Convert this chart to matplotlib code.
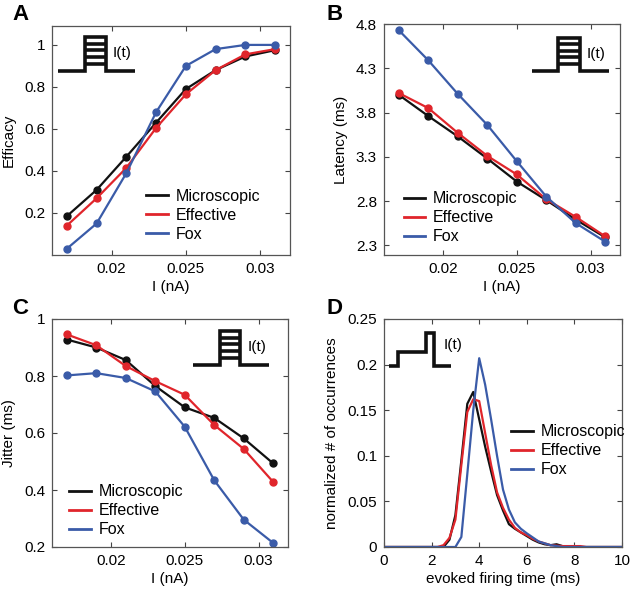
import matplotlib
matplotlib.use('Agg')
import matplotlib.pyplot as plt
from matplotlib.lines import Line2D
from matplotlib.ticker import FormatStrFormatter
import numpy as np

plt.rcParams['font.family'] = ['Liberation Sans', 'DejaVu Sans']
plt.rcParams['font.size'] = 11

# ---- data ----
current = [0.017, 0.019, 0.021, 0.023, 0.025, 0.027, 0.029, 0.031]

eff_micro = [0.185, 0.31, 0.468, 0.63, 0.79, 0.88, 0.945, 0.975]
eff_effective = [0.14, 0.27, 0.415, 0.605, 0.765, 0.88, 0.955, 0.98]
eff_fox = [0.03, 0.15, 0.39, 0.68, 0.90, 0.98, 1.0, 1.0]

lat_micro = [4.00, 3.76, 3.53, 3.28, 3.02, 2.81, 2.59, 2.39]
lat_effective = [4.02, 3.85, 3.57, 3.31, 3.10, 2.82, 2.62, 2.40]
lat_fox = [4.73, 4.39, 4.01, 3.66, 3.25, 2.85, 2.55, 2.34]

jit_micro = [0.928, 0.90, 0.856, 0.765, 0.69, 0.653, 0.581, 0.493]
jit_effective = [0.946, 0.908, 0.835, 0.782, 0.734, 0.628, 0.544, 0.428]
jit_fox = [0.802, 0.81, 0.793, 0.746, 0.622, 0.434, 0.296, 0.214]

t_micro = [0, 2.5, 2.75, 3.0, 3.25, 3.5, 3.75, 4.0, 4.25, 4.5, 4.75, 5.0, 5.25,
           5.5, 5.75, 6.0, 6.25, 6.5, 6.75, 7.0, 7.25, 7.5, 8.0, 10]
h_micro = [0, 0, 0.008, 0.035, 0.095, 0.157, 0.17, 0.14, 0.11, 0.083, 0.057, 0.04,
           0.025, 0.02, 0.016, 0.012, 0.008, 0.005, 0.003, 0.002, 0.003, 0.001, 0, 0]
t_effective = [0, 2.25, 2.5, 2.75, 3.0, 3.25, 3.5, 3.75, 4.0, 4.25, 4.5, 4.75, 5.0,
               5.25, 5.5, 5.75, 6.0, 6.25, 6.5, 6.75, 7.0, 7.5, 8.0, 8.25, 8.5, 10]
h_effective = [0, 0, 0.002, 0.01, 0.03, 0.09, 0.148, 0.162, 0.16, 0.125, 0.09, 0.06,
               0.043, 0.03, 0.021, 0.016, 0.013, 0.009, 0.006, 0.004, 0.002, 0.001,
               0.001, 0.001, 0, 0]
t_fox = [0, 3.0, 3.25, 3.5, 3.75, 4.0, 4.25, 4.5, 4.75, 5.0, 5.25, 5.5, 5.75, 6.0,
         6.5, 7.0, 7.5, 10]
h_fox = [0, 0, 0.011, 0.08, 0.15, 0.207, 0.178, 0.14, 0.10, 0.063, 0.041, 0.027,
         0.02, 0.015, 0.006, 0.002, 0, 0]

labels = ['Microscopic', 'Effective', 'Fox']
colors = ['#111111', '#e0252b', '#3a5ba8']

W, H = 632., 592.
fig = plt.figure(figsize=(W / 100, H / 100), dpi=100)


def add_ax(l, t, r, b):
    return fig.add_axes([l / W, 1 - b / H, (r - l) / W, (b - t) / H])


def style(ax):
    ax.tick_params(direction='in', top=True, right=True, length=3.5,
                   width=0.8, color='#444444', labelsize=11, pad=5)
    for s in ax.spines.values():
        s.set_color('#555555')
        s.set_linewidth(0.9)


def icon(ax, rect, pulse=True):
    ins = ax.inset_axes(rect)
    ins.set_xlim(0, 1)
    ins.set_ylim(-0.05, 1.05)
    ins.axis('off')
    kw = dict(color='#111111', lw=2.6, solid_joinstyle='miter', solid_capstyle='butt')
    if pulse:
        ins.plot([0, 0.345, 0.345, 0.62, 0.62, 1], [0, 0, 1, 1, 0, 0], **kw)
        for lev in [0.21, 0.41, 0.61, 0.80]:
            ins.plot([0.345, 0.62], [lev, lev], **kw)
        ins.text(0.71, 0.52, 'I(t)', ha='left', va='center', fontsize=11)
    else:
        ins.plot([0, 0.146, 0.146, 0.59, 0.59, 0.73, 0.73, 1],
                 [0, 0, 0.41, 0.41, 1, 1, 0, 0], **kw)
        ins.text(0.89, 0.64, 'I(t)', ha='left', va='center', fontsize=11)


def legend(ax, x, y):
    handles = [Line2D([], [], color=c, lw=2) for c in colors]
    ax.legend(handles, labels, loc='upper left', bbox_to_anchor=(x, y),
              frameon=False, borderpad=0, borderaxespad=0, handlelength=1.35,
              handletextpad=0.5, labelspacing=0.25, fontsize=11.5)


series = [
    (eff_micro, eff_effective, eff_fox),
    (lat_micro, lat_effective, lat_fox),
    (jit_micro, jit_effective, jit_fox),
]

# A
axA = add_ax(52, 26, 290, 255)
for ys, c in zip(series[0], colors):
    axA.plot(current, ys, '-o', color=c, lw=1.6, ms=5)
axA.set_xlim(0.016, 0.032)
axA.set_ylim(0, 1.09)
axA.set_xticks([0.02, 0.025, 0.03])
axA.set_yticks([0.2, 0.4, 0.6, 0.8, 1])
axA.yaxis.set_major_formatter(FormatStrFormatter('%g'))
axA.xaxis.set_major_formatter(FormatStrFormatter('%g'))
axA.set_xlabel('I (nA)', labelpad=3)
axA.set_ylabel('Efficacy', labelpad=6)
style(axA)
icon(axA, [0.025, 0.795, 0.324, 0.166])
legend(axA, 0.395, 0.29)

# B
axB = add_ax(384, 24, 620, 255)
for ys, c in zip(series[1], colors):
    axB.plot(current, ys, '-o', color=c, lw=1.6, ms=5)
axB.set_xlim(0.016, 0.032)
axB.set_ylim(2.19, 4.8)
axB.set_xticks([0.02, 0.025, 0.03])
axB.set_yticks([2.3, 2.8, 3.3, 3.8, 4.3, 4.8])
axB.yaxis.set_major_formatter(FormatStrFormatter('%g'))
axB.xaxis.set_major_formatter(FormatStrFormatter('%g'))
axB.set_xlabel('I (nA)', labelpad=3)
axB.set_ylabel('Latency (ms)', labelpad=6)
style(axB)
icon(axB, [0.627, 0.789, 0.325, 0.159])
legend(axB, 0.083, 0.275)

# C
axC = add_ax(52, 319, 288, 547)
for ys, c in zip(series[2], colors):
    axC.plot(current, ys, '-o', color=c, lw=1.6, ms=5)
axC.set_xlim(0.016, 0.032)
axC.set_ylim(0.2, 1)
axC.set_xticks([0.02, 0.025, 0.03])
axC.set_yticks([0.2, 0.4, 0.6, 0.8, 1])
axC.yaxis.set_major_formatter(FormatStrFormatter('%g'))
axC.xaxis.set_major_formatter(FormatStrFormatter('%g'))
axC.set_xlabel('I (nA)', labelpad=3)
axC.set_ylabel('Jitter (ms)', labelpad=6)
style(axC)
icon(axC, [0.599, 0.791, 0.322, 0.164])
legend(axC, 0.073, 0.275)

# D
axD = add_ax(384, 319, 622, 547)
for tt, hh, c in zip([t_micro, t_effective, t_fox],
                     [h_micro, h_effective, h_fox], colors):
    axD.plot(tt, hh, '-', color=c, lw=1.6)
axD.set_xlim(0, 10)
axD.set_ylim(0, 0.25)
axD.set_xticks([0, 2, 4, 6, 8, 10])
axD.set_yticks([0, 0.05, 0.1, 0.15, 0.2, 0.25])
axD.yaxis.set_major_formatter(FormatStrFormatter('%g'))
axD.set_xlabel('evoked firing time (ms)', labelpad=3)
axD.set_ylabel('normalized # of occurrences', labelpad=6)
style(axD)
icon(axD, [0.022, 0.786, 0.259, 0.161], pulse=False)
legend(axD, 0.535, 0.538)

# panel letters
for lab, x, y in [('A', 12, 15), ('B', 326, 15), ('C', 12, 308), ('D', 326, 308)]:
    fig.text(x / W, 1 - y / H, lab, fontsize=16, fontweight='bold',
             ha='left', va='center')

fig.savefig('out.png', dpi=100)
